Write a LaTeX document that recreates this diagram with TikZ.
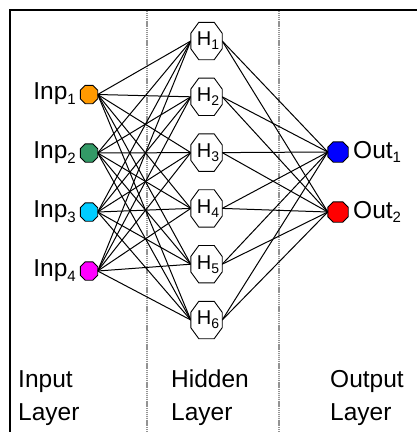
\documentclass[tikz,border=0pt]{standalone}
\usepackage{fontspec}
\setmainfont{Liberation Sans}
\usetikzlibrary{backgrounds}
\definecolor{cOrange}{RGB}{255,153,0}
\definecolor{cGreen}{RGB}{51,153,102}
\definecolor{cCyan}{RGB}{0,204,255}
\definecolor{cMagenta}{RGB}{255,0,255}
\definecolor{cBlue}{RGB}{0,0,255}
\definecolor{cRed}{RGB}{255,0,0}
\newcommand\bigsub[1]{\raisebox{-4.5pt}{\fontsize{15pt}{15pt}\selectfont #1}}
\newcommand\smallsub[1]{\raisebox{-4pt}{\fontsize{14pt}{14pt}\selectfont #1}}
% octagon drawn around a named rectangular node: name, x chamfer, y chamfer, fill colour
\newcommand\octoshape[4]{%
  \filldraw[octline, fill=#4]
    ([xshift=#2]#1.north west) -- ([xshift=-#2]#1.north east) --
    ([yshift=-#3]#1.north east) -- ([yshift=#3]#1.south east) --
    ([xshift=-#2]#1.south east) -- ([xshift=#2]#1.south west) --
    ([yshift=#3]#1.south west) -- ([yshift=-#3]#1.north west) -- cycle;}
\tikzset{
  octline/.style={draw=black, line width=0.9pt},
  inpnode/.style={rectangle, inner sep=0pt, minimum width=17pt, minimum height=18pt},
  outnode/.style={rectangle, inner sep=0pt, minimum width=20pt, minimum height=20pt},
  hidnode/.style={rectangle, inner sep=0pt, minimum width=31pt, minimum height=37pt, font=\fontsize{20pt}{20pt}\selectfont},
  biglabel/.style={inner sep=0pt, font=\fontsize{24.5pt}{24.5pt}\selectfont},
  wire/.style={line width=1pt, black},
  divider/.style={gray!85, line width=1.7pt, dash pattern=on 1.2pt off 0.7pt},
  frame/.style={line width=2.4pt, black}
}
\begin{document}
\begin{tikzpicture}[x=1pt, y=-1pt]
\useasboundingbox (0,0) rectangle (417,432);
% input nodes
\node[inpnode] (i1) at (89,94.5) {};
\node[inpnode] (i2) at (89,153) {};
\node[inpnode] (i3) at (89,212) {};
\node[inpnode] (i4) at (89,271) {};
% hidden nodes
\foreach \k [evaluate=\k as \yy using 41+55.8*(\k-1)] in {1,...,6}
  \node[hidnode] (h\k) at (206.5,\yy) {\kern3pt H\smallsub{\k}};
% output nodes
\node[outnode] (o1) at (338,152) {};
\node[outnode] (o2) at (338,212) {};
\begin{pgfonlayer}{background}
  % frame and dividers
  \draw[frame] (417,10) -- (10,10) -- (10,432);
  \coordinate (d1t) at (147,11); \coordinate (d1b) at (147,432);
  \coordinate (d2t) at (279,11); \coordinate (d2b) at (279,432);
  \draw[divider] (d1t) -- (d1b);
  \draw[divider] (d2t) -- (d2b);
  % wires
  \foreach \i in {1,...,4}
    \foreach \k in {1,...,6}
      \draw[wire] (i\i.east) -- (h\k.west);
  \foreach \k in {1,...,6}
    \foreach \o in {1,2}
      \draw[wire] (h\k.east) -- (o\o.west);
  % node outlines
  \octoshape{i1}{5pt}{5pt}{cOrange}
  \octoshape{i2}{5pt}{5pt}{cGreen}
  \octoshape{i3}{5pt}{5pt}{cCyan}
  \octoshape{i4}{5pt}{5pt}{cMagenta}
  \foreach \k in {1,...,6} {\octoshape{h\k}{8pt}{11pt}{white}}
  \octoshape{o1}{5.5pt}{5.5pt}{cBlue}
  \octoshape{o2}{5.5pt}{5.5pt}{cRed}
\end{pgfonlayer}
% labels
\node[biglabel, anchor=east] (li1) at (76,94) {Inp\bigsub{1}};
\node[biglabel, anchor=east] (li2) at (76,153) {Inp\bigsub{2}};
\node[biglabel, anchor=east] (li3) at (76,212) {Inp\bigsub{3}};
\node[biglabel, anchor=east] (li4) at (76,271) {Inp\bigsub{4}};
\node[biglabel, anchor=west] (lo1) at (353,152) {Out\bigsub{1}};
\node[biglabel, anchor=west] (lo2) at (353,212) {Out\bigsub{2}};
\node[biglabel, anchor=base west] (t1a) at (18,387) {Input};
\node[biglabel, anchor=base west] (t1b) at (18,420) {Layer};
\node[biglabel, anchor=base west] (t2a) at (171,387) {Hidden};
\node[biglabel, anchor=base west] (t2b) at (171,420) {Layer};
\node[biglabel, anchor=base west] (t3a) at (330,387) {Output};
\node[biglabel, anchor=base west] (t3b) at (330,420) {Layer};
\end{tikzpicture}
\end{document}
